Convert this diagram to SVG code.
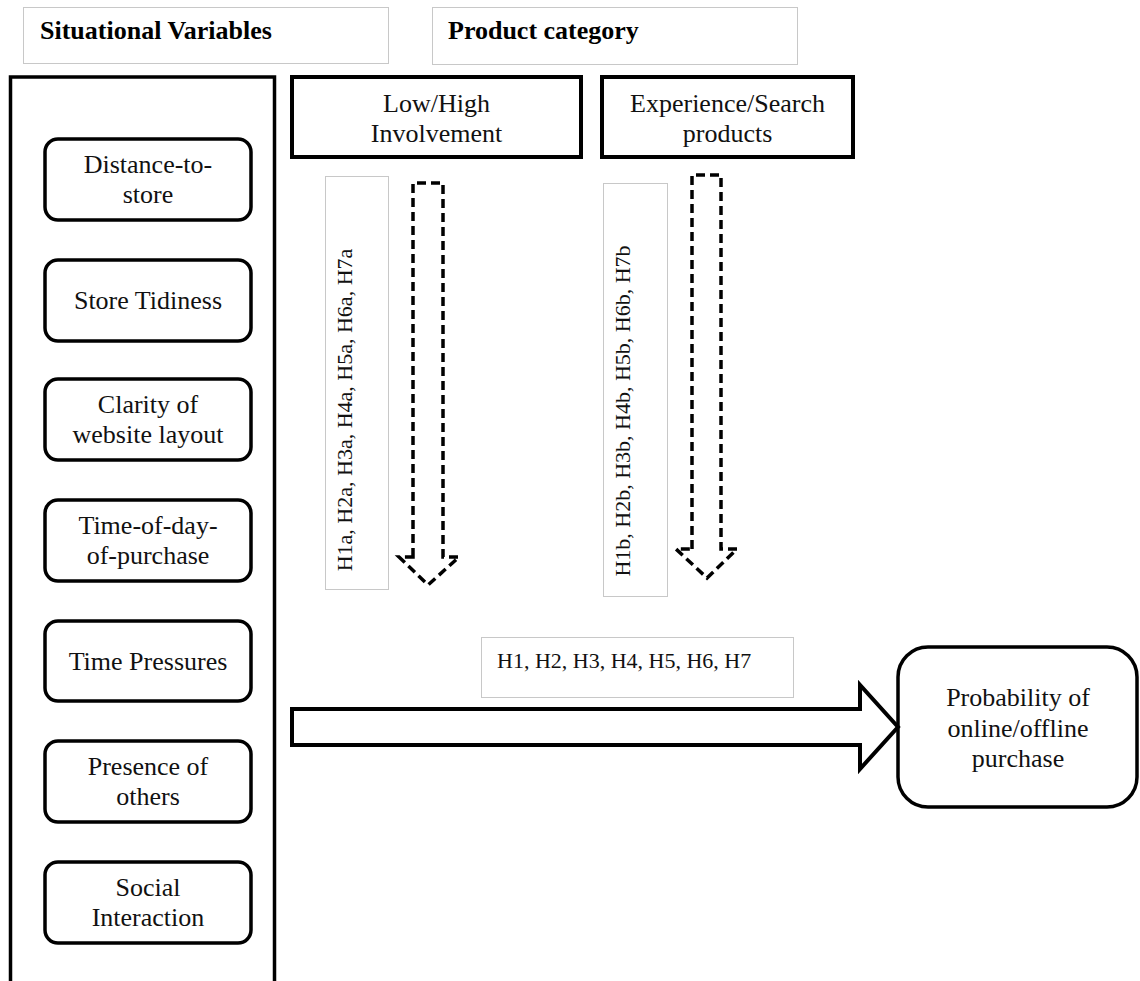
<svg xmlns="http://www.w3.org/2000/svg" width="1140" height="981" viewBox="0 0 1140 981">
<style>
.hdr{fill:#fff;stroke:#c8c8c8;stroke-width:1}
.hdrt{font-family:'Liberation Serif','Times New Roman','DejaVu Serif',serif;font-weight:bold;font-size:26px;fill:#000}
.t{font-family:'Liberation Serif','Times New Roman','DejaVu Serif',serif;font-size:26px;fill:#111;text-anchor:middle}
.s{font-family:'Liberation Serif','Times New Roman','DejaVu Serif',serif;font-size:22px;fill:#111}
.rb{fill:#fff;stroke:#000;stroke-width:3.5}
.sq{fill:#fff;stroke:#000;stroke-width:4}
.lb{fill:#fff;stroke:#c8c8c8;stroke-width:1}
.dash{fill:#fff;stroke:#000;stroke-width:3.5;stroke-dasharray:9 5;stroke-linejoin:miter}
.big{fill:#fff;stroke:#000;stroke-width:4;stroke-linejoin:miter}
</style>
<rect width="1140" height="981" fill="#fff"/>
<g id="hdr-situational">
<rect class="hdr" x="23.5" y="7.5" width="365" height="56"/>
<text class="hdrt" x="40" y="39" font-family="Liberation Serif, serif">Situational Variables</text>
</g>
<g id="hdr-product">
<rect class="hdr" x="432.5" y="7.5" width="365" height="57"/>
<text class="hdrt" x="448" y="39" font-family="Liberation Serif, serif">Product category</text>
</g>
<g id="situational-panel">
<rect x="10.5" y="77" width="264" height="930" fill="none" stroke="#000" stroke-width="3.5"/>
</g>
<g id="n-distance">
<rect class="rb" x="45" y="139" width="206" height="81" rx="13"/>
<text class="t" x="148" y="173">Distance-to-</text>
<text class="t" x="148" y="203">store</text>
</g>
<g id="n-tidiness">
<rect class="rb" x="45" y="260" width="206" height="81" rx="13"/>
<text class="t" x="148" y="309">Store Tidiness</text>
</g>
<g id="n-clarity">
<rect class="rb" x="45" y="379" width="206" height="81" rx="13"/>
<text class="t" x="148" y="413">Clarity of</text>
<text class="t" x="148" y="443">website layout</text>
</g>
<g id="n-timeofday">
<rect class="rb" x="45" y="500" width="206" height="81" rx="13"/>
<text class="t" x="148" y="534">Time-of-day-</text>
<text class="t" x="148" y="564">of-purchase</text>
</g>
<g id="n-pressures">
<rect class="rb" x="45" y="621" width="206" height="80" rx="13"/>
<text class="t" x="148" y="670">Time Pressures</text>
</g>
<g id="n-presence">
<rect class="rb" x="45" y="741" width="206" height="81" rx="13"/>
<text class="t" x="148" y="775">Presence of</text>
<text class="t" x="148" y="805">others</text>
</g>
<g id="n-social">
<rect class="rb" x="45" y="862" width="206" height="81" rx="13"/>
<text class="t" x="148" y="896">Social</text>
<text class="t" x="148" y="926">Interaction</text>
</g>
<g id="n-involvement">
<rect class="sq" x="292" y="77" width="289" height="80"/>
<text class="t" x="436.5" y="112">Low/High</text>
<text class="t" x="436.5" y="142">Involvement</text>
</g>
<g id="n-experience">
<rect class="sq" x="602" y="77" width="251" height="80"/>
<text class="t" x="727.5" y="112">Experience/Search</text>
<text class="t" x="727.5" y="142">products</text>
</g>
<g id="n-probability">
<rect class="rb" x="898" y="647" width="239" height="160" rx="30"/>
<text class="t" x="1018" y="706">Probability of</text>
<text class="t" x="1018" y="737">online/offline</text>
<text class="t" x="1018" y="767">purchase</text>
</g>
<g id="labels">
<g id="lbl-a">
<rect class="lb" x="325.5" y="176.5" width="63" height="413"/>
<text class="s" text-anchor="middle" transform="translate(352,410) rotate(-90)">H1a, H2a, H3a, H4a, H5a, H6a, H7a</text>
</g>
<g id="lbl-b">
<rect class="lb" x="603.5" y="183.5" width="64" height="413"/>
<text class="s" text-anchor="middle" transform="translate(630,411) rotate(-90)">H1b, H2b, H3b, H4b, H5b, H6b, H7b</text>
</g>
<g id="lbl-main">
<rect class="lb" x="481.5" y="637.5" width="312" height="60"/>
<text class="s" x="497" y="668">H1, H2, H3, H4, H5, H6, H7</text>
</g>
</g>
<g id="connectors">
<path class="dash" d="M413,557 L413,183 L443,183 L443,557 L459,557 L428,585 L399,557 Z"/>
<path class="dash" d="M692,549 L692,175 L721,175 L721,549 L737,549 L707,578 L676,549 Z"/>
<path class="big" d="M292,709 L860,709 L860,685 L898,727 L860,769 L860,745 L292,745 Z"/>
</g>
</svg>
